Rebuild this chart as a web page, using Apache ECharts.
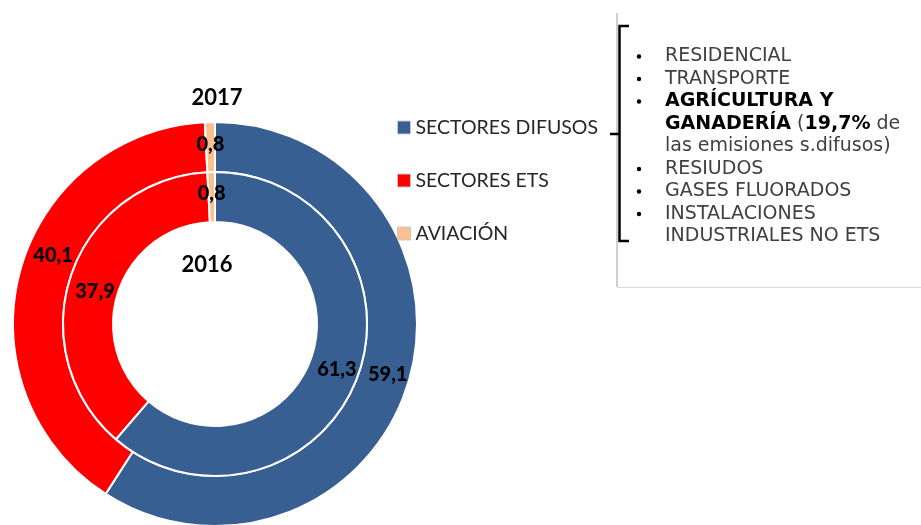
<!DOCTYPE html>
<html>
<head>
<meta charset="utf-8">
<script src="https://cdn.jsdelivr.net/npm/echarts@6/dist/echarts.min.js"></script>
<style>
html,body{margin:0;padding:0;background:#fff;}
#c{width:921px;height:525px;}
</style>
</head>
<body>
<div id="c"></div>
<script>
const categories = ['SECTORES DIFUSOS', 'SECTORES ETS', 'AVIACIÓN'];
const colors = ['#375F91', '#FF0000', '#FAC090'];
const years = ['2016', '2017'];
const values2016 = [61.3, 37.9, 0.8];
const values2017 = [59.1, 40.1, 0.8];
const noteLines = [
  {bullet: true,  text: '{n|RESIDENCIAL}'},
  {bullet: true,  text: '{n|TRANSPORTE}'},
  {bullet: true,  text: '{b|AGRÍCULTURA Y}'},
  {bullet: false, text: '{b|GANADERÍA}{n| (}{b|19,7%}{n| de}'},
  {bullet: false, text: '{n|las emisiones s.difusos)}'},
  {bullet: true,  text: '{n|RESIUDOS}'},
  {bullet: true,  text: '{n|GASES FLUORADOS}'},
  {bullet: true,  text: '{n|INSTALACIONES}'},
  {bullet: false, text: '{n|INDUSTRIALES NO ETS}'}
];

const chart = echarts.init(document.getElementById('c'));
const fmt = p => String(p.value).replace('.', ',');
// label nudges (style only) to mimic the original label placement
const outerOffsets = [[0, 0], [12, -22], [0, 0]];
const innerOffsets = [[0, 0], [3, 10], [0, 0]];
const mk = (vals, offs) => categories.map((n, i) => ({
  name: n, value: vals[i], itemStyle: {color: colors[i]}, label: {offset: offs[i]}
}));
const labelStyle = {
  show: true, position: 'inside', formatter: fmt,
  color: '#000', fontFamily: 'Lato', fontWeight: 900, fontSize: 20
};

const graphics = [];
graphics.push({type: 'text', x: 217, y: 98, style: {text: years[1], fill: '#000', font: 'bold 22px Lato', align: 'center', verticalAlign: 'middle'}});
graphics.push({type: 'text', x: 207, y: 265, style: {text: years[0], fill: '#000', font: 'bold 22px Lato', align: 'center', verticalAlign: 'middle'}});
graphics.push({type: 'line', shape: {x1: 617, y1: 13, x2: 617, y2: 287}, style: {stroke: '#bfbfbf', lineWidth: 1.5}});
graphics.push({type: 'line', shape: {x1: 617, y1: 287.5, x2: 921, y2: 287.5}, style: {stroke: '#d9d9d9', lineWidth: 1}});
graphics.push({type: 'polyline', shape: {points: [[629, 26], [619.5, 26], [619.5, 241], [629, 241]]}, style: {stroke: '#000', lineWidth: 2.5, fill: null}});
graphics.push({type: 'line', shape: {x1: 610, y1: 134, x2: 619.5, y2: 134}, style: {stroke: '#000', lineWidth: 2.5}});
const y0 = 56.5, lh = 22.5;
noteLines.forEach((l, i) => {
  const y = y0 + i * lh;
  if (l.bullet) {
    graphics.push({type: 'circle', shape: {cx: 639, cy: y, r: 2.2}, style: {fill: '#000'}});
  }
  graphics.push({type: 'text', x: 665, y: y, style: {
    text: l.text, verticalAlign: 'middle', align: 'left',
    rich: {
      n: {fill: '#404040', fontFamily: 'DejaVu Sans', fontSize: 19},
      b: {fill: '#000', fontFamily: 'DejaVu Sans', fontSize: 19, fontWeight: 'bold'}
    }
  }});
});

chart.setOption({
  animation: false,
  backgroundColor: '#fff',
  legend: {
    orient: 'vertical', left: 392, top: 112,
    data: categories, icon: 'rect', itemWidth: 13, itemHeight: 13, itemGap: 32,
    itemStyle: {borderColor: '#c8c8c8', borderWidth: 1},
    textStyle: {fontFamily: 'Lato', fontSize: 19.5, color: '#262626', lineHeight: 21}
  },
  series: [
    {
      name: years[1], type: 'pie', center: [215, 324], radius: [152, 202],
      startAngle: 90, clockwise: true, avoidLabelOverlap: false,
      itemStyle: {borderColor: '#fff', borderWidth: 2},
      label: labelStyle, labelLine: {show: false},
      emphasis: {disabled: true},
      data: mk(values2017, outerOffsets)
    },
    {
      name: years[0], type: 'pie', center: [215, 324], radius: [102, 152],
      startAngle: 90, clockwise: true, avoidLabelOverlap: false,
      itemStyle: {borderColor: '#fff', borderWidth: 2},
      label: labelStyle, labelLine: {show: false},
      emphasis: {disabled: true},
      data: mk(values2016, innerOffsets)
    }
  ],
  graphic: graphics
});
</script>
</body>
</html>
